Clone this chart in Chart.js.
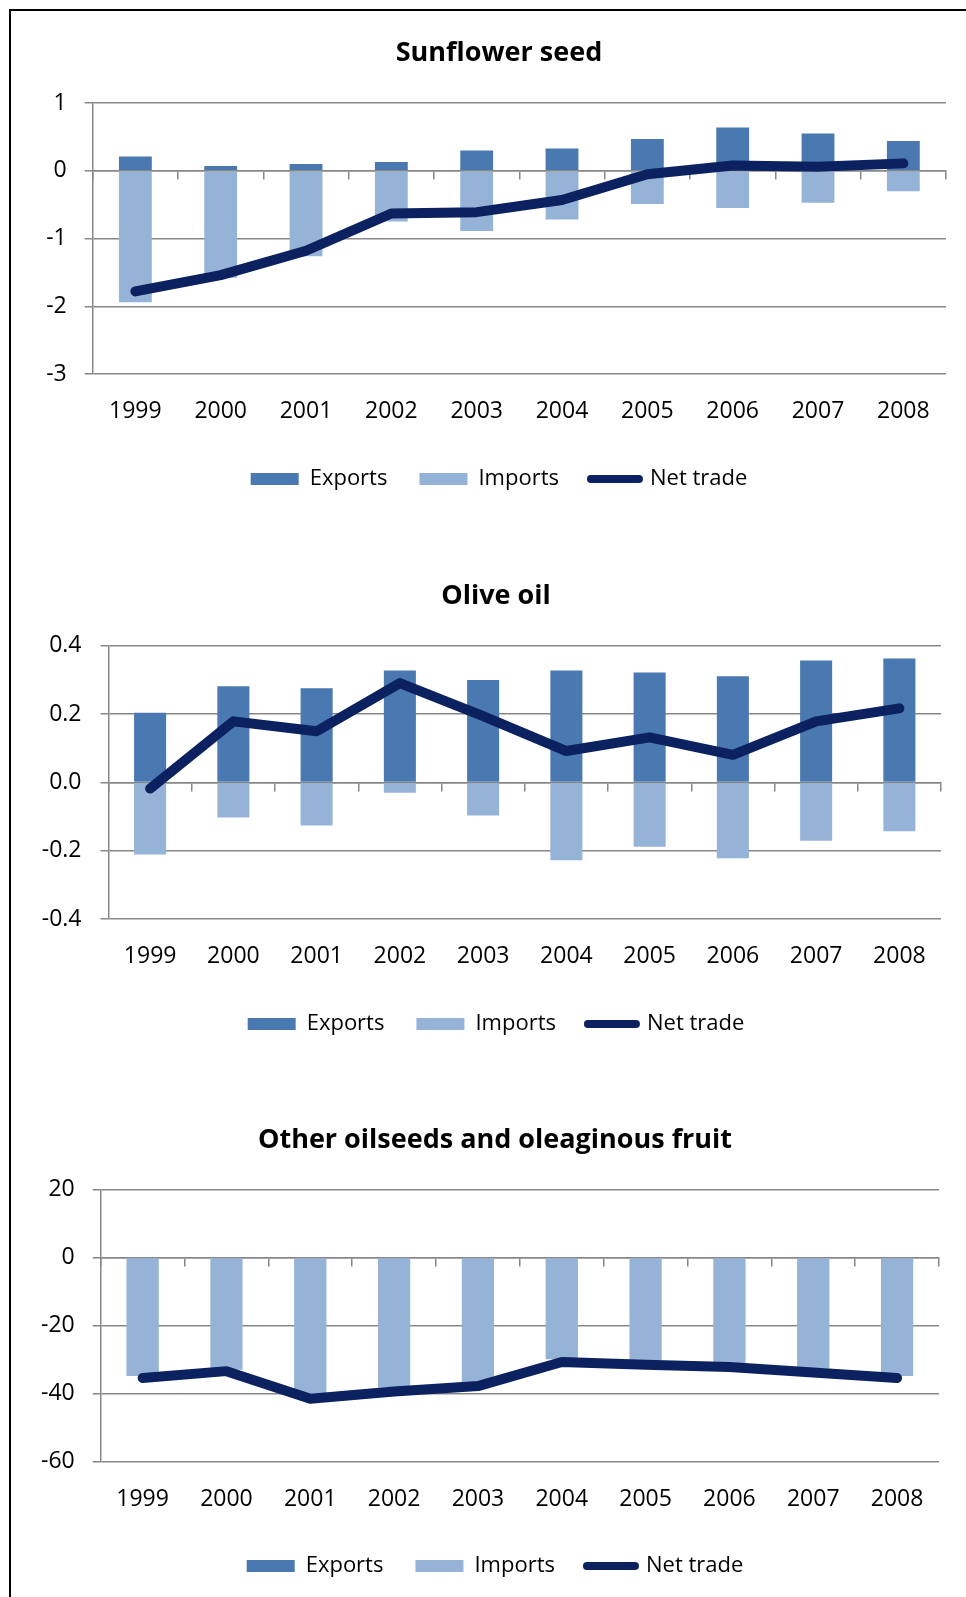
<!DOCTYPE html>
<html>
<head>
<meta charset="utf-8">
<script src="https://cdn.jsdelivr.net/npm/chart.js@4.4.0/dist/chart.umd.min.js"></script>
<style>
  html, body { margin: 0; padding: 0; background: #fff; overflow: hidden; width: 966px; height: 1597px; }
  #frame { position: absolute; left: 9px; top: 9px; width: 1000px; height: 1700px; border: 2px solid #000; }
  canvas { position: absolute; left: 0; }
</style>
</head>
<body>
<div id="frame"></div>
<canvas id="chartSun" width="998" height="500" style="top:0px"></canvas>
<canvas id="chartOlive" width="992" height="515" style="top:530px"></canvas>
<canvas id="chartOther" width="990" height="517" style="top:1070px"></canvas>

<script>
// data
const years = ['1999', '2000', '2001', '2002', '2003', '2004', '2005', '2006', '2007', '2008'];

const sunExports = [0.21, 0.07, 0.10, 0.13, 0.30, 0.33, 0.47, 0.64, 0.55, 0.44];
const sunImports = [-1.94, -1.58, -1.26, -0.75, -0.89, -0.72, -0.49, -0.55, -0.47, -0.30];
const sunNet = [-1.78, -1.54, -1.18, -0.63, -0.61, -0.43, -0.05, 0.08, 0.06, 0.11];

const oliveExports = [0.204, 0.282, 0.276, 0.328, 0.300, 0.328, 0.322, 0.311, 0.357, 0.363];
const oliveImports = [-0.211, -0.103, -0.126, -0.030, -0.097, -0.228, -0.188, -0.222, -0.171, -0.143];
const oliveNet = [-0.018, 0.179, 0.150, 0.291, 0.194, 0.092, 0.132, 0.081, 0.179, 0.217];

const otherExports = [0, 0, 0, 0, 0, 0, 0, 0, 0, 0];
const otherImports = [-34.8, -33.0, -40.4, -38.2, -36.7, -29.9, -30.2, -31.0, -32.6, -34.8];
const otherNet = [-35.4, -33.4, -41.5, -39.4, -37.8, -30.7, -31.5, -32.2, -33.8, -35.4];

const seriesNames = ['Exports', 'Imports', 'Net trade'];

// warna
const colExports = '#4a78b0';
const colImports = '#95b3d7';
const colNet = '#0b2160';
const colGrid = '#878787';
const fontFamily = "'Open Sans', sans-serif";

// bikin satu chart
function makeChart(id, title, exp, imp, net, yMin, yMax, yStep, decimals, lay) {
  const ctx = document.getElementById(id).getContext('2d');
  return new Chart(ctx, {
    type: 'bar',
    data: {
      labels: years,
      datasets: [
        { label: seriesNames[0], data: exp, backgroundColor: colExports, stack: 'trade', order: 1 },
        { label: seriesNames[1], data: imp, backgroundColor: colImports, stack: 'trade', order: 1 },
        {
          type: 'line', label: seriesNames[2], data: net, stack: 'net', order: 0,
          borderColor: colNet, backgroundColor: colNet, borderWidth: 10,
          borderCapStyle: 'round', borderJoinStyle: 'round', tension: 0,
          pointRadius: 0, pointHoverRadius: 0, fill: false,
        },
      ],
    },
    options: {
      responsive: false,
      animation: false,
      devicePixelRatio: 1,
      datasets: { bar: { categoryPercentage: 1, barPercentage: 0.385 } },
      layout: { padding: 0 },
      plugins: {
        tooltip: { enabled: false },
        title: {
          display: true,
          text: title,
          color: '#000',
          font: { family: fontFamily, size: 27, weight: 'bold' },
          padding: { top: lay.titleTop, bottom: lay.titleBottom },
        },
        legend: {
          position: 'bottom',
          labels: {
            usePointStyle: true,
            pointStyleWidth: 48,
            boxHeight: 12,
            padding: 32,
            color: '#000',
            font: { family: fontFamily, size: 22 },
            generateLabels: (chart) => chart.data.datasets.map((ds, i) => ({
              text: ds.label,
              datasetIndex: i,
              fillStyle: ds.type === 'line' ? 'rgba(0,0,0,0)' : ds.backgroundColor,
              strokeStyle: ds.type === 'line' ? colNet : ds.backgroundColor,
              lineWidth: ds.type === 'line' ? 8 : 0,
              lineCap: 'round',
              pointStyle: ds.type === 'line' ? 'line' : 'rect',
              hidden: false,
              fontColor: '#000',
            })),
          },
        },
      },
      scales: {
        x: {
          stacked: true,
          offset: true,
          grid: { display: false, drawTicks: false },
          border: { display: false },
          ticks: { color: '#000', font: { family: fontFamily, size: 23 }, padding: lay.xPad, maxRotation: 0 },
          afterFit: (s) => { s.height = lay.xHeight; },
        },
        // garis sumbu kategori di nilai 0 dengan tanda tick
        x2: {
          type: 'category',
          position: { y: 0 },
          offset: true,
          grid: { offset: true, drawOnChartArea: false, drawTicks: true, tickLength: 8, color: colGrid, lineWidth: 1.5 },
          border: { display: true, color: colGrid, width: 1.5 },
          ticks: { display: false },
        },
        y: {
          stacked: true,
          min: yMin,
          max: yMax,
          position: 'left',
          grid: { color: colGrid, lineWidth: 1.5, tickLength: 8, drawTicks: true },
          border: { display: true, color: colGrid, width: 1.5 },
          ticks: {
            stepSize: yStep,
            color: '#000',
            padding: lay.yPad,
            font: { family: fontFamily, size: 23 },
            callback: (v) => Number(v).toFixed(decimals),
          },
          afterFit: (s) => { s.width = lay.left; },
        },
        // sumbu kosong di kanan, cuma buat ruang
        yR: {
          type: 'linear',
          position: 'right',
          grid: { display: false },
          border: { display: false },
          ticks: { display: false },
          afterFit: (s) => { s.width = lay.right; },
        },
      },
    },
  });
}

const chartSun = makeChart('chartSun', 'Sunflower seed', sunExports, sunImports, sunNet, -3, 1, 1, 0,
  { titleTop: 37.5, titleBottom: 33.2, xHeight: 62, xPad: 24, yPad: 18, left: 92.7, right: 52 });

const chartOlive = makeChart('chartOlive', 'Olive oil', oliveExports, oliveImports, oliveNet, -0.4, 0.4, 0.2, 1,
  { titleTop: 50.4, titleBottom: 33.1, xHeight: 62, xPad: 24, yPad: 19, left: 108.5, right: 51 });

const chartOther = makeChart('chartOther', 'Other oilseeds and oleaginous fruit', otherExports, otherImports, otherNet, -60, 20, 20, 0,
  { titleTop: 54, titleBottom: 32.9, xHeight: 61.3, xPad: 24, yPad: 18, left: 100.7, right: 51 });
</script>
</body>
</html>
